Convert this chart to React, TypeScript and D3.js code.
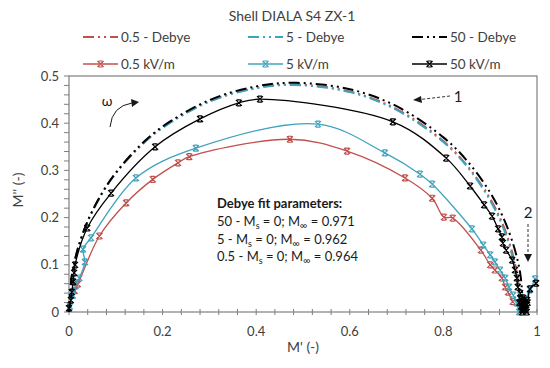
import React, { useEffect, useRef } from 'react';
import * as d3 from 'd3';

// [M', M''] pairs
const debye50 = [
  [0, 0], [0.005, 0.0695], [0.01, 0.098], [0.02, 0.138], [0.04, 0.193], [0.07, 0.251],
  [0.1, 0.295], [0.15, 0.351], [0.2, 0.393], [0.3, 0.449], [0.4, 0.478], [0.4855, 0.4855],
  [0.6, 0.472], [0.7, 0.436], [0.8, 0.37], [0.85, 0.321], [0.9, 0.253], [0.93, 0.195],
  [0.95, 0.141], [0.96, 0.103], [0.965, 0.076], [0.971, 0],
];
const debye5 = [
  [0, 0], [0.005, 0.069], [0.01, 0.098], [0.02, 0.137], [0.04, 0.192], [0.07, 0.25],
  [0.1, 0.294], [0.15, 0.349], [0.2, 0.39], [0.3, 0.446], [0.4, 0.474], [0.481, 0.481],
  [0.6, 0.466], [0.7, 0.428], [0.8, 0.36], [0.85, 0.309], [0.9, 0.236], [0.93, 0.173],
  [0.95, 0.107], [0.96, 0.044], [0.962, 0],
];
const debye05 = [
  [0, 0], [0.005, 0.069], [0.01, 0.098], [0.02, 0.137], [0.04, 0.192], [0.07, 0.25],
  [0.1, 0.294], [0.15, 0.349], [0.2, 0.391], [0.3, 0.446], [0.4, 0.475], [0.482, 0.482],
  [0.6, 0.467], [0.7, 0.43], [0.8, 0.362], [0.85, 0.311], [0.9, 0.24], [0.93, 0.178],
  [0.95, 0.115], [0.96, 0.062], [0.964, 0],
];
const meas05 = [
  [0.012, 0.045], [0.019, 0.059], [0.065, 0.161], [0.122, 0.231], [0.179, 0.281],
  [0.233, 0.316], [0.257, 0.329], [0.472, 0.366], [0.594, 0.341], [0.718, 0.284],
  [0.776, 0.241], [0.801, 0.201], [0.82, 0.199], [0.88, 0.131], [0.9, 0.1], [0.91, 0.089],
  [0.925, 0.072], [0.932, 0.053], [0.938, 0.042], [0.948, 0.022],
];
const meas5 = [
  [0.002, 0.012], [0.008, 0.035], [0.014, 0.055], [0.022, 0.072], [0.034, 0.106],
  [0.03, 0.133], [0.047, 0.157], [0.143, 0.284], [0.271, 0.347], [0.532, 0.398],
  [0.675, 0.337], [0.75, 0.292], [0.776, 0.271], [0.861, 0.176], [0.885, 0.142],
  [0.9, 0.121], [0.91, 0.106], [0.921, 0.089], [0.932, 0.072], [0.94, 0.053],
  [0.949, 0.036], [0.957, 0.019], [0.962, 0], [0.966, 0.006], [0.974, 0.025],
  [0.985, 0.047], [0.996, 0.07],
];
const meas50 = [
  [0, 0.008], [0.004, 0.025], [0.006, 0.042], [0.009, 0.064], [0.011, 0.083],
  [0.013, 0.1], [0.039, 0.178], [0.09, 0.252], [0.184, 0.35], [0.28, 0.409],
  [0.363, 0.443], [0.408, 0.451], [0.692, 0.403], [0.806, 0.326], [0.857, 0.267],
  [0.887, 0.227], [0.904, 0.203], [0.917, 0.176], [0.925, 0.159], [0.927, 0.146],
  [0.934, 0.131], [0.947, 0.11], [0.953, 0.089], [0.957, 0.072], [0.959, 0.053],
  [0.964, 0.04], [0.962, 0.02], [0.968, 0.005], [0.965, 0.028], [0.971, 0.01],
  [0.966, 0.012], [0.968, 0], [0.974, 0.018], [0.97, 0.03], [0.973, 0.008],
  [0.976, 0.005], [0.972, 0.022], [0.978, 0], [0.975, 0.012], [0.979, 0.025],
  [0.977, 0.015], [0.98, 0.02], [0.985, 0.049], [0.998, 0.061],
];

const xTicks = [0, 0.2, 0.4, 0.6, 0.8, 1];
const yTicks = [0, 0.1, 0.2, 0.3, 0.4, 0.5];
const fitLines = [
  ['50', '0.971'],
  ['5', '0.962'],
  ['0.5', '0.964'],
];

const RED = '#c0504d';
const CYAN = '#3fa3bd';
const BLACK = '#000000';
const FONT = 'Lato, "Open Sans", sans-serif';
const DASH = '11,4,2,4,2,4';
const MARK = 'M-3,-3L3,3M3,-3L-3,3M-2,-3H2M-2,3H2';

export default function App() {
  const ref = useRef<SVGSVGElement>(null);

  useEffect(() => {
    const svg = d3.select(ref.current);
    svg.selectAll('*').remove();

    const x = d3.scaleLinear().domain([0, 1]).range([69, 537]);
    const y = d3.scaleLinear().domain([0, 0.5]).range([312, 76]);

    // frame
    svg.append('rect')
      .attr('x', 69).attr('y', 76).attr('width', 468).attr('height', 236)
      .attr('fill', 'none').attr('stroke', '#7f7f7f').attr('stroke-width', 1.2);

    // ticks
    const xMinor = d3.range(0, 1.0001, 0.04);
    svg.append('g').selectAll('line').data(xMinor).join('line')
      .attr('x1', (d) => x(d)).attr('x2', (d) => x(d))
      .attr('y1', 309).attr('y2', 315)
      .attr('stroke', '#7f7f7f');
    const yMinor = d3.range(0, 0.5001, 0.02);
    svg.append('g').selectAll('line').data(yMinor).join('line')
      .attr('x1', 64).attr('x2', 69)
      .attr('y1', (d) => y(d)).attr('y2', (d) => y(d))
      .attr('stroke', '#7f7f7f');

    svg.append('g').selectAll('text').data(xTicks).join('text')
      .attr('x', (d) => x(d)).attr('y', 336)
      .attr('text-anchor', 'middle')
      .style('font', `13px ${FONT}`).attr('fill', '#404040')
      .text((d) => String(d));
    svg.append('g').selectAll('text').data(yTicks).join('text')
      .attr('x', 59).attr('y', (d) => y(d) + 4.5)
      .attr('text-anchor', 'end')
      .style('font', `13px ${FONT}`).attr('fill', '#404040')
      .text((d) => String(d));

    svg.append('text').attr('x', 303).attr('y', 352).attr('text-anchor', 'middle')
      .style('font', `14px ${FONT}`).attr('fill', '#404040').text("M' (-)");
    svg.append('text').attr('transform', 'translate(23,190) rotate(-90)')
      .attr('text-anchor', 'middle')
      .style('font', `14px ${FONT}`).attr('fill', '#404040').text("M'' (-)");

    // title
    svg.append('text').attr('x', 292).attr('y', 21).attr('text-anchor', 'middle')
      .style('font', `14px ${FONT}`).attr('fill', '#404040').text('Shell DIALA S4 ZX-1');

    const smooth = d3.line<number[]>()
      .x((d) => x(d[0])).y((d) => y(d[1]))
      .curve(d3.curveCatmullRom.alpha(0.5));

    const debyes: [number[][], string][] = [[debye05, RED], [debye5, CYAN], [debye50, BLACK]];
    debyes.forEach(([data, c]) => {
      svg.append('path').attr('d', smooth(data)).attr('fill', 'none')
        .attr('stroke', c).attr('stroke-width', 2).attr('stroke-dasharray', DASH);
    });

    const meas: [number[][], string][] = [[meas05, RED], [meas5, CYAN], [meas50, BLACK]];
    meas.forEach(([data, c]) => {
      svg.append('path').attr('d', smooth(data)).attr('fill', 'none')
        .attr('stroke', c).attr('stroke-width', 1.3);
      svg.append('g').selectAll('path').data(data).join('path')
        .attr('d', MARK)
        .attr('transform', (d) => `translate(${x(d[0])},${y(d[1])})`)
        .attr('fill', 'none').attr('stroke', c).attr('stroke-width', 1.2);
    });

    // legend
    const legend = [
      { label: '0.5 - Debye', c: RED, x0: 83, row: 0 },
      { label: '5 - Debye', c: CYAN, x0: 248, row: 0 },
      { label: '50 - Debye', c: BLACK, x0: 412, row: 0 },
      { label: '0.5 kV/m', c: RED, x0: 83, row: 1 },
      { label: '5 kV/m', c: CYAN, x0: 248, row: 1 },
      { label: '50 kV/m', c: BLACK, x0: 412, row: 1 },
    ];
    legend.forEach((l) => {
      const ly = l.row === 0 ? 37 : 64;
      const g = svg.append('g');
      g.append('line').attr('x1', l.x0).attr('x2', l.x0 + 35).attr('y1', ly).attr('y2', ly)
        .attr('stroke', l.c).attr('stroke-width', l.row === 0 ? 2 : 1.3)
        .attr('stroke-dasharray', l.row === 0 ? DASH : null);
      if (l.row === 1) {
        g.append('path').attr('d', MARK).attr('transform', `translate(${l.x0 + 17.5},${ly})`)
          .attr('fill', 'none').attr('stroke', l.c).attr('stroke-width', 1.2);
      }
      g.append('text').attr('x', l.x0 + 38).attr('y', ly + 5)
        .style('font', `13.5px ${FONT}`).attr('fill', '#404040').text(l.label);
    });

    // fit parameters
    const fit = svg.append('text').style('font', `13px ${FONT}`).attr('fill', '#1a1a1a');
    fit.append('tspan').attr('x', 217).attr('y', 208).attr('font-weight', 'bold')
      .text('Debye fit parameters:');
    fitLines.forEach(([k, v], i) => {
      const t = svg.append('text').attr('x', 217).attr('y', 226 + i * 17.5)
        .style('font', `13px ${FONT}`).attr('fill', '#1a1a1a');
      t.append('tspan').text(`${k} - M`);
      t.append('tspan').attr('dy', 3).attr('font-size', 9).text('s');
      t.append('tspan').attr('dy', -3).text(' = 0; M');
      t.append('tspan').attr('dy', 3).attr('font-size', 10).text('∞');
      t.append('tspan').attr('dy', -3).text(` = ${v}`);
    });

    // annotations
    svg.append('text').attr('x', 107).attr('y', 106).attr('text-anchor', 'middle')
      .style('font', `14px ${FONT}`).attr('fill', '#1a1a1a').text('ω');
    svg.append('path').attr('d', 'M110,127 Q112,106 132,103')
      .attr('fill', 'none').attr('stroke', '#1a1a1a').attr('stroke-width', 1);
    svg.append('path').attr('d', 'M139,102 L131,99 L132,107 Z').attr('fill', '#1a1a1a');

    svg.append('text').attr('x', 458).attr('y', 102).attr('text-anchor', 'middle')
      .style('font', `15px ${FONT}`).attr('fill', '#1a1a1a').text('1');
    svg.append('line').attr('x1', 450).attr('y1', 96).attr('x2', 420).attr('y2', 99.5)
      .attr('stroke', '#333').attr('stroke-dasharray', '3,2');
    svg.append('path').attr('d', 'M413,100 L421,96 L422,103 Z').attr('fill', '#1a1a1a');

    svg.append('text').attr('x', 528).attr('y', 218).attr('text-anchor', 'middle')
      .style('font', `15px ${FONT}`).attr('fill', '#1a1a1a').text('2');
    svg.append('line').attr('x1', 528).attr('y1', 224).attr('x2', 528).attr('y2', 254)
      .attr('stroke', '#333').attr('stroke-dasharray', '3,2');
    svg.append('path').attr('d', 'M528,262 L524,254 L532,254 Z').attr('fill', '#1a1a1a');
  }, []);

  return (
    <svg ref={ref} width={550} height={368}
      style={{ position: 'absolute', left: 0, top: 0, background: '#fff' }} />
  );
}
